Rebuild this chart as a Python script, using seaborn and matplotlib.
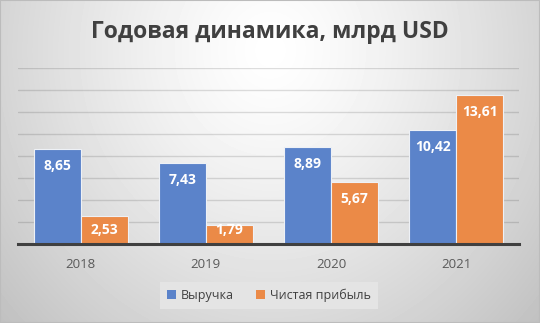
import numpy as np
import pandas as pd
import matplotlib
matplotlib.use("Agg")
import matplotlib.pyplot as plt
import seaborn as sns
from matplotlib.patches import Rectangle

# ---- data ----
years = ["2018", "2019", "2020", "2021"]
revenue = [8.65, 7.43, 8.89, 10.42]
profit = [2.53, 1.79, 5.67, 13.61]
series = ["Выручка", "Чистая прибыль"]
title = "Годовая динамика, млрд USD"

df = pd.DataFrame({
    "year": years * 2,
    "value": revenue + profit,
    "series": [series[0]] * len(years) + [series[1]] * len(years),
})

sns.set_theme(style="white")
plt.rcParams['font.family'] = ['Open Sans', 'DejaVu Sans']

W, H = 540, 323
fig = plt.figure(figsize=(W / 100, H / 100), dpi=100)

# background gradient
bg = fig.add_axes([0, 0, 1, 1], zorder=-10)
yy, xx = np.mgrid[0:H, 0:W]
r = np.sqrt(((xx - 270) / 300) ** 2 + ((yy - 50) / 330) ** 2)
g = np.clip(1 - 0.19 * r ** 1.3, 0, 1)
bg.imshow(g, cmap="gray", vmin=0, vmax=1, extent=[0, 1, 0, 1], aspect="auto", origin="upper")
bg.set_axis_off()
bg.add_patch(Rectangle((0, 0), 1, 1, transform=bg.transAxes, fill=False,
                       edgecolor="#bcbcbc", linewidth=1.5))

# main axes
base_y = 244.3
top_y = 68.3
ax = fig.add_axes([18 / W, (H - base_y) / H, 501 / W, (base_y - top_y) / H])
ax.patch.set_alpha(0)

colors = {series[0]: "#5B83CA", series[1]: "#EB8A47"}
sns.barplot(data=df, x="year", y="value", hue="series", palette=colors,
            width=0.75, saturation=1, edgecolor="#eef1f6", linewidth=0.8,
            ax=ax, legend=True)

ax.set_ylim(0, 16)
ax.set_yticks(range(0, 17, 2))
ax.set_yticklabels([])
ax.yaxis.grid(True, color="black", alpha=0.13, linewidth=1)
ax.set_axisbelow(True)
ax.tick_params(axis="y", length=0)
ax.tick_params(axis="x", length=0, pad=10, labelsize=9.5, labelcolor="#595959")
ax.set_xlabel("")
ax.set_ylabel("")
for s in ["left", "right", "top"]:
    ax.spines[s].set_visible(False)
ax.spines["bottom"].set_color("#404040")
ax.spines["bottom"].set_linewidth(2.2)

# data labels
fig.canvas.draw()
vals = [revenue, profit]
for cont, vs in zip(ax.containers, vals):
    for bar, v in zip(cont, vs):
        x = bar.get_x() + bar.get_width() / 2
        px_h = ax.transData.transform((0, v))[1] - ax.transData.transform((0, 0))[1]
        label = f"{v:.2f}".replace(".", ",")
        if px_h - 17 < 14.5:
            ax.annotate(label, xy=(x, 0), xytext=(0, 14.5), textcoords="offset pixels",
                        ha="center", va="center", color="white", fontsize=10,
                        fontweight="bold")
        else:
            ax.annotate(label, xy=(x, v), xytext=(0, -17), textcoords="offset pixels",
                        ha="center", va="center", color="white", fontsize=10,
                        fontweight="bold")

# legend
handles, labels = ax.get_legend_handles_labels()
ax.get_legend().remove()
leg = fig.legend(handles, labels, loc="center", bbox_to_anchor=(269 / W, 1 - 295.5 / H),
                 ncol=2, frameon=True, facecolor="#e4e4e4", edgecolor="none",
                 fontsize=9, handlelength=0.7, handleheight=0.7, handletextpad=0.4,
                 columnspacing=1.8, borderpad=0.55, borderaxespad=0, fancybox=False,
                 framealpha=1)
for t in leg.get_texts():
    t.set_color("#404040")
for h in leg.legend_handles:
    h.set_edgecolor("none")

fig.text(0.5, 1 - 32 / H, title, ha="center", va="center", fontsize=16.5,
         fontweight="bold", color="#404040")

fig.savefig("out.png", dpi=100)
